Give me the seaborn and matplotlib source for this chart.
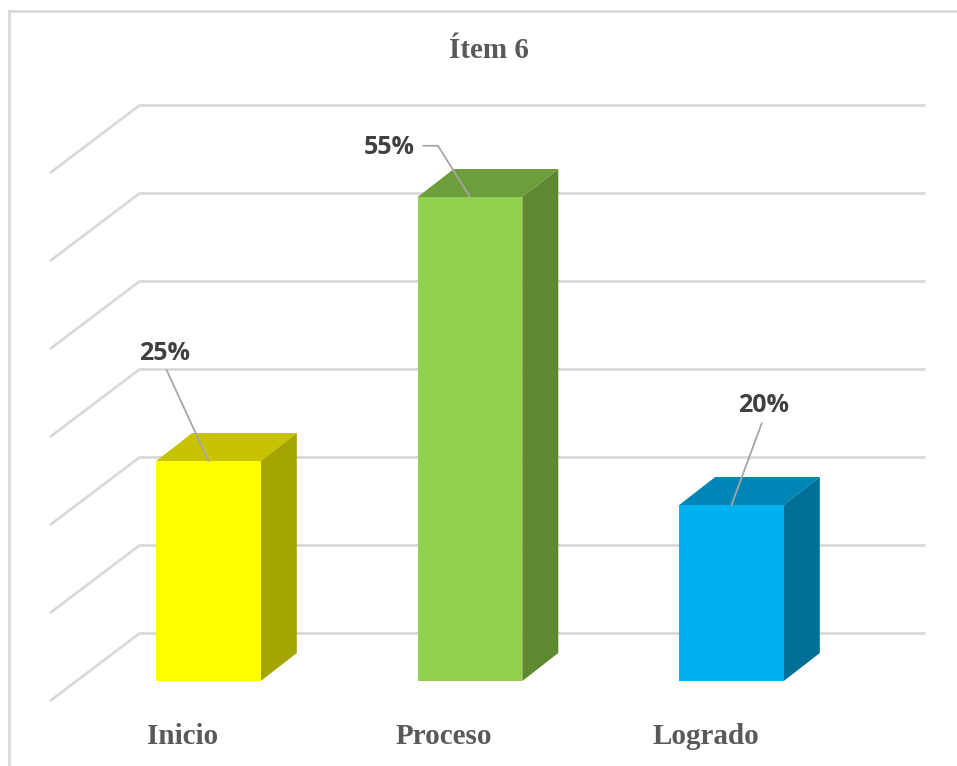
import matplotlib
matplotlib.use("Agg")
import matplotlib.pyplot as plt
from matplotlib.patches import Polygon, Rectangle
import seaborn as sns

# ---- data ----
categories = ["Inicio", "Proceso", "Logrado"]
values = [25, 55, 20]
value_labels = ["25%", "55%", "20%"]
tick_values = [0, 10, 20, 30, 40, 50, 60]
title = "Ítem 6"

# ---- styling ----
front_colors = ["#FFFF00", "#92D050", "#00B0F0"]
top_colors = ["#C8C300", "#6E9D3B", "#0086B6"]
side_colors = ["#A5A500", "#5E8932", "#006F98"]
grid_color = "#D9D9D9"
text_color = "#595959"
label_color = "#404040"
leader_color = "#A6A6A6"

W, H, DPI = 957, 766, 100
sns.set_theme(style="white")
plt.rcParams["font.family"] = ["DejaVu Sans"]

fig = plt.figure(figsize=(W / DPI, H / DPI), dpi=DPI)
fig.patch.set_facecolor("white")
ax = fig.add_axes([0, 0, 1, 1])
ax.set_facecolor("white")

# scale: pixels per category step and per percentage point
px_per_x = 261.5
px_per_y = 8.8
x_first_px = 208.5      # centre of first bar
y_base_px = 766 - 681   # baseline of bar fronts (from bottom)
x0 = -x_first_px / px_per_x
y0 = -y_base_px / px_per_y
ax.set_xlim(x0, x0 + W / px_per_x)
ax.set_ylim(y0, y0 + H / px_per_y)
ax.axis("off")

def px2dx(p):
    return p / px_per_x

def px2dy(p):
    return p / px_per_y

# oblique depth of a bar, and position of walls behind/in front of bars
bar_dx, bar_dy = px2dx(36), px2dy(28)
wall_dx, wall_dy = px2dx(68), px2dy(48)
front_dx, front_dy = px2dx(-26), px2dy(-20)
right_x = x0 + px2dx(925)

# back wall gridlines + left wall diagonals
for t in tick_values:
    yb = t + wall_dy
    xb = x0 + px2dx(140)
    ax.plot([xb, right_x], [yb, yb], color=grid_color, lw=2, zorder=1,
            solid_capstyle="butt")
    ax.plot([xb, x0 + px2dx(50)], [yb, yb - px2dy(68)], color=grid_color,
            lw=2, zorder=1, solid_capstyle="butt")

# front faces through seaborn
sns.barplot(x=categories, y=values, hue=categories, palette=front_colors,
            width=0.4, legend=False, ax=ax, zorder=3, linewidth=0,
            saturation=1)
ax.set_xlim(x0, x0 + W / px_per_x)
ax.set_ylim(y0, y0 + H / px_per_y)
ax.axis("off")

# top and side faces from each bar patch
for patch, tc, sc in zip(ax.patches, top_colors, side_colors):
    bx, by = patch.get_x(), patch.get_y()
    bw, bh = patch.get_width(), patch.get_height()
    top = Polygon([(bx, by + bh), (bx + bw, by + bh),
                   (bx + bw + bar_dx, by + bh + bar_dy),
                   (bx + bar_dx, by + bh + bar_dy)],
                  closed=True, facecolor=tc, edgecolor="none", zorder=2.9)
    side = Polygon([(bx + bw, by), (bx + bw + bar_dx, by + bar_dy),
                    (bx + bw + bar_dx, by + bh + bar_dy), (bx + bw, by + bh)],
                   closed=True, facecolor=sc, edgecolor="none", zorder=2.9)
    ax.add_patch(top)
    ax.add_patch(side)

# data labels with leader lines
label_offsets = [(-44, 108), (-81, 50), (32, 99)]
for i, (patch, lab, off) in enumerate(zip(ax.patches, value_labels, label_offsets)):
    cx = patch.get_x() + patch.get_width() / 2
    cy = patch.get_y() + patch.get_height()
    if i == 1:
        arrow = dict(arrowstyle="-", color=leader_color, lw=1.3,
                     shrinkA=4, shrinkB=0, relpos=(1.0, 0.55),
                     connectionstyle="angle,angleA=0,angleB=122,rad=0")
    else:
        arrow = dict(arrowstyle="-", color=leader_color, lw=1.3,
                     shrinkA=1, shrinkB=0, relpos=(0.5, 0.0))
    ax.annotate(lab, xy=(cx, cy), xytext=off, textcoords="offset pixels",
                ha="center", va="center", fontsize=18, fontweight="bold",
                family=["Open Sans", "DejaVu Sans"], color=label_color,
                arrowprops=arrow, zorder=5)

# category labels at the front edge of the floor
for patch, cat in zip(ax.patches, categories):
    cx = patch.get_x() + patch.get_width() / 2 + front_dx
    ax.text(cx, front_dy - px2dy(36), cat, ha="center", va="center",
            fontsize=21, fontweight="bold",
            family=["Liberation Serif", "DejaVu Serif"], color=text_color)

# chart title
fig.text(489 / W, 1 - 50 / H, title, ha="center", va="center", fontsize=21,
         fontweight="bold", family=["Liberation Serif", "DejaVu Serif"],
         color=text_color)

# outer chart frame
fig.patches.append(Rectangle((9 / W, -0.1), 1.2, 1 - 11 / H + 0.1,
                             transform=fig.transFigure, fill=False,
                             edgecolor=grid_color, lw=2, zorder=0))

fig.savefig("out.png", dpi=DPI)
